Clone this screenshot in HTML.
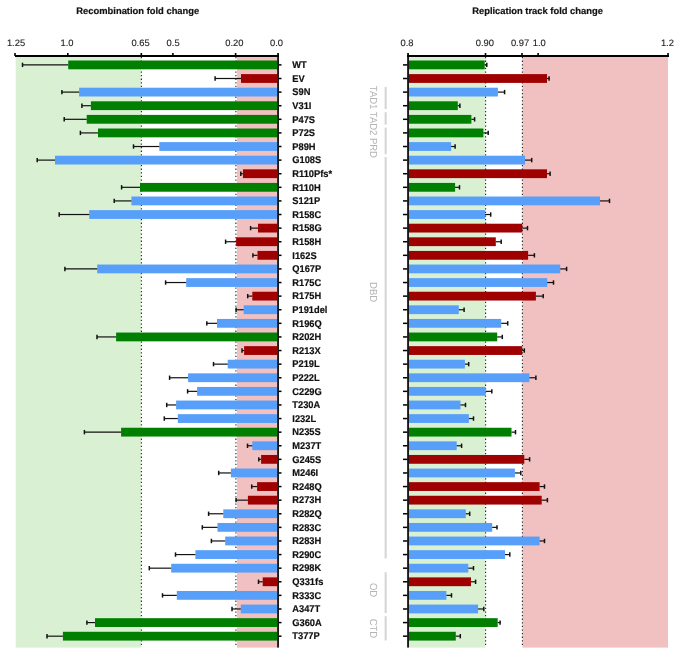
<!DOCTYPE html><html><head><meta charset="utf-8"><style>html,body{margin:0;padding:0;background:#fff;}body{width:685px;height:667px;overflow:hidden;}svg{display:block;text-rendering:geometricPrecision;will-change:transform;font-family:"Liberation Sans",sans-serif;}</style></head><body>
<svg width="685" height="667" viewBox="0 0 685 667">
<rect x="15.7" y="57.0" width="125.3" height="590.6" fill="#d9f1d2"/>
<rect x="237" y="57.0" width="40.2" height="590.6" fill="#f1c0c1"/>
<line x1="141.4" y1="57.0" x2="141.4" y2="647.6" stroke="#222" stroke-width="1.1" stroke-dasharray="1.3 2.3"/>
<line x1="235.9" y1="57.0" x2="235.9" y2="647.6" stroke="#222" stroke-width="1.1" stroke-dasharray="1.3 2.3"/>
<rect x="68.2" y="60.50" width="209.00" height="8.8" fill="#007f00"/>
<line x1="22.5" y1="64.90" x2="68.2" y2="64.90" stroke="#111" stroke-width="1.2"/>
<line x1="22.5" y1="62.70" x2="22.5" y2="67.10" stroke="#111" stroke-width="1.5"/>
<rect x="241.0" y="74.10" width="36.20" height="8.8" fill="#9f0000"/>
<line x1="215.1" y1="78.50" x2="241.0" y2="78.50" stroke="#111" stroke-width="1.2"/>
<line x1="215.1" y1="76.30" x2="215.1" y2="80.70" stroke="#111" stroke-width="1.5"/>
<rect x="79.1" y="87.70" width="198.10" height="8.8" fill="#589ffa"/>
<line x1="61.9" y1="92.10" x2="79.1" y2="92.10" stroke="#111" stroke-width="1.2"/>
<line x1="61.9" y1="89.90" x2="61.9" y2="94.30" stroke="#111" stroke-width="1.5"/>
<rect x="90.9" y="101.31" width="186.30" height="8.8" fill="#007f00"/>
<line x1="81.9" y1="105.71" x2="90.9" y2="105.71" stroke="#111" stroke-width="1.2"/>
<line x1="81.9" y1="103.51" x2="81.9" y2="107.91" stroke="#111" stroke-width="1.5"/>
<rect x="86.7" y="114.91" width="190.50" height="8.8" fill="#007f00"/>
<line x1="64.2" y1="119.31" x2="86.7" y2="119.31" stroke="#111" stroke-width="1.2"/>
<line x1="64.2" y1="117.11" x2="64.2" y2="121.51" stroke="#111" stroke-width="1.5"/>
<rect x="98.0" y="128.51" width="179.20" height="8.8" fill="#007f00"/>
<line x1="80.4" y1="132.91" x2="98.0" y2="132.91" stroke="#111" stroke-width="1.2"/>
<line x1="80.4" y1="130.71" x2="80.4" y2="135.11" stroke="#111" stroke-width="1.5"/>
<rect x="159.3" y="142.11" width="117.90" height="8.8" fill="#589ffa"/>
<line x1="133.5" y1="146.51" x2="159.3" y2="146.51" stroke="#111" stroke-width="1.2"/>
<line x1="133.5" y1="144.31" x2="133.5" y2="148.71" stroke="#111" stroke-width="1.5"/>
<rect x="55.0" y="155.71" width="222.20" height="8.8" fill="#589ffa"/>
<line x1="37.2" y1="160.11" x2="55.0" y2="160.11" stroke="#111" stroke-width="1.2"/>
<line x1="37.2" y1="157.91" x2="37.2" y2="162.31" stroke="#111" stroke-width="1.5"/>
<rect x="242.9" y="169.32" width="34.30" height="8.8" fill="#9f0000"/>
<line x1="240.8" y1="173.72" x2="242.9" y2="173.72" stroke="#111" stroke-width="1.2"/>
<line x1="240.8" y1="171.52" x2="240.8" y2="175.92" stroke="#111" stroke-width="1.5"/>
<rect x="140.0" y="182.92" width="137.20" height="8.8" fill="#007f00"/>
<line x1="121.6" y1="187.32" x2="140.0" y2="187.32" stroke="#111" stroke-width="1.2"/>
<line x1="121.6" y1="185.12" x2="121.6" y2="189.52" stroke="#111" stroke-width="1.5"/>
<rect x="131.4" y="196.52" width="145.80" height="8.8" fill="#589ffa"/>
<line x1="114.2" y1="200.92" x2="131.4" y2="200.92" stroke="#111" stroke-width="1.2"/>
<line x1="114.2" y1="198.72" x2="114.2" y2="203.12" stroke="#111" stroke-width="1.5"/>
<rect x="89.2" y="210.12" width="188.00" height="8.8" fill="#589ffa"/>
<line x1="59.2" y1="214.52" x2="89.2" y2="214.52" stroke="#111" stroke-width="1.2"/>
<line x1="59.2" y1="212.32" x2="59.2" y2="216.72" stroke="#111" stroke-width="1.5"/>
<rect x="258.0" y="223.72" width="19.20" height="8.8" fill="#9f0000"/>
<line x1="250.6" y1="228.12" x2="258.0" y2="228.12" stroke="#111" stroke-width="1.2"/>
<line x1="250.6" y1="225.92" x2="250.6" y2="230.32" stroke="#111" stroke-width="1.5"/>
<rect x="236.1" y="237.33" width="41.10" height="8.8" fill="#9f0000"/>
<line x1="225.6" y1="241.73" x2="236.1" y2="241.73" stroke="#111" stroke-width="1.2"/>
<line x1="225.6" y1="239.53" x2="225.6" y2="243.93" stroke="#111" stroke-width="1.5"/>
<rect x="257.5" y="250.93" width="19.70" height="8.8" fill="#9f0000"/>
<line x1="252.9" y1="255.33" x2="257.5" y2="255.33" stroke="#111" stroke-width="1.2"/>
<line x1="252.9" y1="253.13" x2="252.9" y2="257.53" stroke="#111" stroke-width="1.5"/>
<rect x="97.2" y="264.53" width="180.00" height="8.8" fill="#589ffa"/>
<line x1="64.9" y1="268.93" x2="97.2" y2="268.93" stroke="#111" stroke-width="1.2"/>
<line x1="64.9" y1="266.73" x2="64.9" y2="271.13" stroke="#111" stroke-width="1.5"/>
<rect x="186.2" y="278.13" width="91.00" height="8.8" fill="#589ffa"/>
<line x1="165.6" y1="282.53" x2="186.2" y2="282.53" stroke="#111" stroke-width="1.2"/>
<line x1="165.6" y1="280.33" x2="165.6" y2="284.73" stroke="#111" stroke-width="1.5"/>
<rect x="252.3" y="291.73" width="24.90" height="8.8" fill="#9f0000"/>
<line x1="247.7" y1="296.13" x2="252.3" y2="296.13" stroke="#111" stroke-width="1.2"/>
<line x1="247.7" y1="293.93" x2="247.7" y2="298.33" stroke="#111" stroke-width="1.5"/>
<rect x="243.7" y="305.34" width="33.50" height="8.8" fill="#589ffa"/>
<line x1="236.1" y1="309.74" x2="243.7" y2="309.74" stroke="#111" stroke-width="1.2"/>
<line x1="236.1" y1="307.54" x2="236.1" y2="311.94" stroke="#111" stroke-width="1.5"/>
<rect x="217.0" y="318.94" width="60.20" height="8.8" fill="#589ffa"/>
<line x1="206.8" y1="323.34" x2="217.0" y2="323.34" stroke="#111" stroke-width="1.2"/>
<line x1="206.8" y1="321.14" x2="206.8" y2="325.54" stroke="#111" stroke-width="1.5"/>
<rect x="116.1" y="332.54" width="161.10" height="8.8" fill="#007f00"/>
<line x1="97.0" y1="336.94" x2="116.1" y2="336.94" stroke="#111" stroke-width="1.2"/>
<line x1="97.0" y1="334.74" x2="97.0" y2="339.14" stroke="#111" stroke-width="1.5"/>
<rect x="244.1" y="346.14" width="33.10" height="8.8" fill="#9f0000"/>
<line x1="242.0" y1="350.54" x2="244.1" y2="350.54" stroke="#111" stroke-width="1.2"/>
<line x1="242.0" y1="348.34" x2="242.0" y2="352.74" stroke="#111" stroke-width="1.5"/>
<rect x="227.7" y="359.74" width="49.50" height="8.8" fill="#589ffa"/>
<line x1="213.5" y1="364.14" x2="227.7" y2="364.14" stroke="#111" stroke-width="1.2"/>
<line x1="213.5" y1="361.94" x2="213.5" y2="366.34" stroke="#111" stroke-width="1.5"/>
<rect x="188.1" y="373.35" width="89.10" height="8.8" fill="#589ffa"/>
<line x1="169.6" y1="377.75" x2="188.1" y2="377.75" stroke="#111" stroke-width="1.2"/>
<line x1="169.6" y1="375.55" x2="169.6" y2="379.95" stroke="#111" stroke-width="1.5"/>
<rect x="197.1" y="386.95" width="80.10" height="8.8" fill="#589ffa"/>
<line x1="187.6" y1="391.35" x2="197.1" y2="391.35" stroke="#111" stroke-width="1.2"/>
<line x1="187.6" y1="389.15" x2="187.6" y2="393.55" stroke="#111" stroke-width="1.5"/>
<rect x="176.1" y="400.55" width="101.10" height="8.8" fill="#589ffa"/>
<line x1="166.7" y1="404.95" x2="176.1" y2="404.95" stroke="#111" stroke-width="1.2"/>
<line x1="166.7" y1="402.75" x2="166.7" y2="407.15" stroke="#111" stroke-width="1.5"/>
<rect x="177.8" y="414.15" width="99.40" height="8.8" fill="#589ffa"/>
<line x1="164.3" y1="418.55" x2="177.8" y2="418.55" stroke="#111" stroke-width="1.2"/>
<line x1="164.3" y1="416.35" x2="164.3" y2="420.75" stroke="#111" stroke-width="1.5"/>
<rect x="121.1" y="427.75" width="156.10" height="8.8" fill="#007f00"/>
<line x1="84.4" y1="432.15" x2="121.1" y2="432.15" stroke="#111" stroke-width="1.2"/>
<line x1="84.4" y1="429.95" x2="84.4" y2="434.35" stroke="#111" stroke-width="1.5"/>
<rect x="252.3" y="441.36" width="24.90" height="8.8" fill="#589ffa"/>
<line x1="247.5" y1="445.76" x2="252.3" y2="445.76" stroke="#111" stroke-width="1.2"/>
<line x1="247.5" y1="443.56" x2="247.5" y2="447.96" stroke="#111" stroke-width="1.5"/>
<rect x="261.1" y="454.96" width="16.10" height="8.8" fill="#9f0000"/>
<line x1="258.8" y1="459.36" x2="261.1" y2="459.36" stroke="#111" stroke-width="1.2"/>
<line x1="258.8" y1="457.16" x2="258.8" y2="461.56" stroke="#111" stroke-width="1.5"/>
<rect x="230.9" y="468.56" width="46.30" height="8.8" fill="#589ffa"/>
<line x1="218.7" y1="472.96" x2="230.9" y2="472.96" stroke="#111" stroke-width="1.2"/>
<line x1="218.7" y1="470.76" x2="218.7" y2="475.16" stroke="#111" stroke-width="1.5"/>
<rect x="257.1" y="482.16" width="20.10" height="8.8" fill="#9f0000"/>
<line x1="251.7" y1="486.56" x2="257.1" y2="486.56" stroke="#111" stroke-width="1.2"/>
<line x1="251.7" y1="484.36" x2="251.7" y2="488.76" stroke="#111" stroke-width="1.5"/>
<rect x="247.9" y="495.76" width="29.30" height="8.8" fill="#9f0000"/>
<line x1="236.1" y1="500.16" x2="247.9" y2="500.16" stroke="#111" stroke-width="1.2"/>
<line x1="236.1" y1="497.96" x2="236.1" y2="502.36" stroke="#111" stroke-width="1.5"/>
<rect x="223.3" y="509.37" width="53.90" height="8.8" fill="#589ffa"/>
<line x1="208.6" y1="513.77" x2="223.3" y2="513.77" stroke="#111" stroke-width="1.2"/>
<line x1="208.6" y1="511.57" x2="208.6" y2="515.97" stroke="#111" stroke-width="1.5"/>
<rect x="217.5" y="522.97" width="59.70" height="8.8" fill="#589ffa"/>
<line x1="202.3" y1="527.37" x2="217.5" y2="527.37" stroke="#111" stroke-width="1.2"/>
<line x1="202.3" y1="525.17" x2="202.3" y2="529.57" stroke="#111" stroke-width="1.5"/>
<rect x="225.2" y="536.57" width="52.00" height="8.8" fill="#589ffa"/>
<line x1="211.4" y1="540.97" x2="225.2" y2="540.97" stroke="#111" stroke-width="1.2"/>
<line x1="211.4" y1="538.77" x2="211.4" y2="543.17" stroke="#111" stroke-width="1.5"/>
<rect x="195.4" y="550.17" width="81.80" height="8.8" fill="#589ffa"/>
<line x1="175.5" y1="554.57" x2="195.4" y2="554.57" stroke="#111" stroke-width="1.2"/>
<line x1="175.5" y1="552.37" x2="175.5" y2="556.77" stroke="#111" stroke-width="1.5"/>
<rect x="171.2" y="563.77" width="106.00" height="8.8" fill="#589ffa"/>
<line x1="149.3" y1="568.17" x2="171.2" y2="568.17" stroke="#111" stroke-width="1.2"/>
<line x1="149.3" y1="565.97" x2="149.3" y2="570.37" stroke="#111" stroke-width="1.5"/>
<rect x="262.7" y="577.38" width="14.50" height="8.8" fill="#9f0000"/>
<line x1="258.5" y1="581.78" x2="262.7" y2="581.78" stroke="#111" stroke-width="1.2"/>
<line x1="258.5" y1="579.58" x2="258.5" y2="583.98" stroke="#111" stroke-width="1.5"/>
<rect x="176.8" y="590.98" width="100.40" height="8.8" fill="#589ffa"/>
<line x1="162.5" y1="595.38" x2="176.8" y2="595.38" stroke="#111" stroke-width="1.2"/>
<line x1="162.5" y1="593.18" x2="162.5" y2="597.58" stroke="#111" stroke-width="1.5"/>
<rect x="240.8" y="604.58" width="36.40" height="8.8" fill="#589ffa"/>
<line x1="232.0" y1="608.98" x2="240.8" y2="608.98" stroke="#111" stroke-width="1.2"/>
<line x1="232.0" y1="606.78" x2="232.0" y2="611.18" stroke="#111" stroke-width="1.5"/>
<rect x="95.0" y="618.18" width="182.20" height="8.8" fill="#007f00"/>
<line x1="86.9" y1="622.58" x2="95.0" y2="622.58" stroke="#111" stroke-width="1.2"/>
<line x1="86.9" y1="620.38" x2="86.9" y2="624.78" stroke="#111" stroke-width="1.5"/>
<rect x="62.9" y="631.78" width="214.30" height="8.8" fill="#007f00"/>
<line x1="47.0" y1="636.18" x2="62.9" y2="636.18" stroke="#111" stroke-width="1.2"/>
<line x1="47.0" y1="633.98" x2="47.0" y2="638.38" stroke="#111" stroke-width="1.5"/>
<rect x="15" y="55" width="264" height="2" fill="#000"/>
<rect x="277.2" y="53" width="1.7" height="594.6" fill="#000"/>
<rect x="14.2" y="53" width="1.6" height="3" fill="#000"/>
<rect x="67.0" y="53" width="1.6" height="3" fill="#000"/>
<rect x="140.5" y="53" width="1.6" height="3" fill="#000"/>
<rect x="172.1" y="53" width="1.6" height="3" fill="#000"/>
<rect x="234.79999999999998" y="53" width="1.6" height="3" fill="#000"/>
<rect x="278.9" y="64.15" width="2.6" height="1.5" fill="#000"/>
<rect x="278.9" y="77.75" width="2.6" height="1.5" fill="#000"/>
<rect x="278.9" y="91.35" width="2.6" height="1.5" fill="#000"/>
<rect x="278.9" y="104.96" width="2.6" height="1.5" fill="#000"/>
<rect x="278.9" y="118.56" width="2.6" height="1.5" fill="#000"/>
<rect x="278.9" y="132.16" width="2.6" height="1.5" fill="#000"/>
<rect x="278.9" y="145.76" width="2.6" height="1.5" fill="#000"/>
<rect x="278.9" y="159.36" width="2.6" height="1.5" fill="#000"/>
<rect x="278.9" y="172.97" width="2.6" height="1.5" fill="#000"/>
<rect x="278.9" y="186.57" width="2.6" height="1.5" fill="#000"/>
<rect x="278.9" y="200.17" width="2.6" height="1.5" fill="#000"/>
<rect x="278.9" y="213.77" width="2.6" height="1.5" fill="#000"/>
<rect x="278.9" y="227.37" width="2.6" height="1.5" fill="#000"/>
<rect x="278.9" y="240.98" width="2.6" height="1.5" fill="#000"/>
<rect x="278.9" y="254.58" width="2.6" height="1.5" fill="#000"/>
<rect x="278.9" y="268.18" width="2.6" height="1.5" fill="#000"/>
<rect x="278.9" y="281.78" width="2.6" height="1.5" fill="#000"/>
<rect x="278.9" y="295.38" width="2.6" height="1.5" fill="#000"/>
<rect x="278.9" y="308.99" width="2.6" height="1.5" fill="#000"/>
<rect x="278.9" y="322.59" width="2.6" height="1.5" fill="#000"/>
<rect x="278.9" y="336.19" width="2.6" height="1.5" fill="#000"/>
<rect x="278.9" y="349.79" width="2.6" height="1.5" fill="#000"/>
<rect x="278.9" y="363.39" width="2.6" height="1.5" fill="#000"/>
<rect x="278.9" y="377.00" width="2.6" height="1.5" fill="#000"/>
<rect x="278.9" y="390.60" width="2.6" height="1.5" fill="#000"/>
<rect x="278.9" y="404.20" width="2.6" height="1.5" fill="#000"/>
<rect x="278.9" y="417.80" width="2.6" height="1.5" fill="#000"/>
<rect x="278.9" y="431.40" width="2.6" height="1.5" fill="#000"/>
<rect x="278.9" y="445.01" width="2.6" height="1.5" fill="#000"/>
<rect x="278.9" y="458.61" width="2.6" height="1.5" fill="#000"/>
<rect x="278.9" y="472.21" width="2.6" height="1.5" fill="#000"/>
<rect x="278.9" y="485.81" width="2.6" height="1.5" fill="#000"/>
<rect x="278.9" y="499.41" width="2.6" height="1.5" fill="#000"/>
<rect x="278.9" y="513.02" width="2.6" height="1.5" fill="#000"/>
<rect x="278.9" y="526.62" width="2.6" height="1.5" fill="#000"/>
<rect x="278.9" y="540.22" width="2.6" height="1.5" fill="#000"/>
<rect x="278.9" y="553.82" width="2.6" height="1.5" fill="#000"/>
<rect x="278.9" y="567.42" width="2.6" height="1.5" fill="#000"/>
<rect x="278.9" y="581.03" width="2.6" height="1.5" fill="#000"/>
<rect x="278.9" y="594.63" width="2.6" height="1.5" fill="#000"/>
<rect x="278.9" y="608.23" width="2.6" height="1.5" fill="#000"/>
<rect x="278.9" y="621.83" width="2.6" height="1.5" fill="#000"/>
<rect x="278.9" y="635.43" width="2.6" height="1.5" fill="#000"/>
<text transform="translate(16,46.1) scale(1,1)" font-size="9.4" text-anchor="middle" fill="#222" stroke="#222" stroke-width="0.12">1.25</text>
<text transform="translate(67,46.1) scale(1,1)" font-size="9.4" text-anchor="middle" fill="#222" stroke="#222" stroke-width="0.12">1.0</text>
<text transform="translate(140.5,46.1) scale(1,1)" font-size="9.4" text-anchor="middle" fill="#222" stroke="#222" stroke-width="0.12">0.65</text>
<text transform="translate(173.1,46.1) scale(1,1)" font-size="9.4" text-anchor="middle" fill="#222" stroke="#222" stroke-width="0.12">0.5</text>
<text transform="translate(234.4,46.1) scale(1,1)" font-size="9.4" text-anchor="middle" fill="#222" stroke="#222" stroke-width="0.12">0.20</text>
<text transform="translate(276.5,46.1) scale(1,1)" font-size="9.4" text-anchor="middle" fill="#222" stroke="#222" stroke-width="0.12">0.0</text>
<text transform="translate(137.8,13.5) scale(1,1)" font-size="9.4" font-weight="bold" text-anchor="middle" fill="#111" stroke="#111" stroke-width="0.2">Recombination fold change</text>
<text transform="translate(292.3,68.20) scale(0.949,1)" font-size="9.8" letter-spacing="0" font-weight="bold" fill="#111" stroke="#111" stroke-width="0.2">WT</text>
<text transform="translate(292.3,81.80) scale(0.949,1)" font-size="9.8" letter-spacing="0" font-weight="bold" fill="#111" stroke="#111" stroke-width="0.2">EV</text>
<text transform="translate(292.3,95.40) scale(0.949,1)" font-size="9.8" letter-spacing="0" font-weight="bold" fill="#111" stroke="#111" stroke-width="0.2">S9N</text>
<text transform="translate(292.3,109.01) scale(0.949,1)" font-size="9.8" letter-spacing="0" font-weight="bold" fill="#111" stroke="#111" stroke-width="0.2">V31I</text>
<text transform="translate(292.3,122.61) scale(0.949,1)" font-size="9.8" letter-spacing="0" font-weight="bold" fill="#111" stroke="#111" stroke-width="0.2">P47S</text>
<text transform="translate(292.3,136.21) scale(0.949,1)" font-size="9.8" letter-spacing="0" font-weight="bold" fill="#111" stroke="#111" stroke-width="0.2">P72S</text>
<text transform="translate(292.3,149.81) scale(0.949,1)" font-size="9.8" letter-spacing="0" font-weight="bold" fill="#111" stroke="#111" stroke-width="0.2">P89H</text>
<text transform="translate(292.3,163.41) scale(0.949,1)" font-size="9.8" letter-spacing="0" font-weight="bold" fill="#111" stroke="#111" stroke-width="0.2">G108S</text>
<text transform="translate(292.3,177.02) scale(0.949,1)" font-size="9.8" letter-spacing="0" font-weight="bold" fill="#111" stroke="#111" stroke-width="0.2">R110Pfs*</text>
<text transform="translate(292.3,190.62) scale(0.949,1)" font-size="9.8" letter-spacing="0" font-weight="bold" fill="#111" stroke="#111" stroke-width="0.2">R110H</text>
<text transform="translate(292.3,204.22) scale(0.949,1)" font-size="9.8" letter-spacing="0" font-weight="bold" fill="#111" stroke="#111" stroke-width="0.2">S121P</text>
<text transform="translate(292.3,217.82) scale(0.949,1)" font-size="9.8" letter-spacing="0" font-weight="bold" fill="#111" stroke="#111" stroke-width="0.2">R158C</text>
<text transform="translate(292.3,231.42) scale(0.949,1)" font-size="9.8" letter-spacing="0" font-weight="bold" fill="#111" stroke="#111" stroke-width="0.2">R158G</text>
<text transform="translate(292.3,245.03) scale(0.949,1)" font-size="9.8" letter-spacing="0" font-weight="bold" fill="#111" stroke="#111" stroke-width="0.2">R158H</text>
<text transform="translate(292.3,258.63) scale(0.949,1)" font-size="9.8" letter-spacing="0" font-weight="bold" fill="#111" stroke="#111" stroke-width="0.2">I162S</text>
<text transform="translate(292.3,272.23) scale(0.949,1)" font-size="9.8" letter-spacing="0" font-weight="bold" fill="#111" stroke="#111" stroke-width="0.2">Q167P</text>
<text transform="translate(292.3,285.83) scale(0.949,1)" font-size="9.8" letter-spacing="0" font-weight="bold" fill="#111" stroke="#111" stroke-width="0.2">R175C</text>
<text transform="translate(292.3,299.43) scale(0.949,1)" font-size="9.8" letter-spacing="0" font-weight="bold" fill="#111" stroke="#111" stroke-width="0.2">R175H</text>
<text transform="translate(292.3,313.04) scale(0.949,1)" font-size="9.8" letter-spacing="0" font-weight="bold" fill="#111" stroke="#111" stroke-width="0.2">P191del</text>
<text transform="translate(292.3,326.64) scale(0.949,1)" font-size="9.8" letter-spacing="0" font-weight="bold" fill="#111" stroke="#111" stroke-width="0.2">R196Q</text>
<text transform="translate(292.3,340.24) scale(0.949,1)" font-size="9.8" letter-spacing="0" font-weight="bold" fill="#111" stroke="#111" stroke-width="0.2">R202H</text>
<text transform="translate(292.3,353.84) scale(0.949,1)" font-size="9.8" letter-spacing="0" font-weight="bold" fill="#111" stroke="#111" stroke-width="0.2">R213X</text>
<text transform="translate(292.3,367.44) scale(0.949,1)" font-size="9.8" letter-spacing="0" font-weight="bold" fill="#111" stroke="#111" stroke-width="0.2">P219L</text>
<text transform="translate(292.3,381.05) scale(0.949,1)" font-size="9.8" letter-spacing="0" font-weight="bold" fill="#111" stroke="#111" stroke-width="0.2">P222L</text>
<text transform="translate(292.3,394.65) scale(0.949,1)" font-size="9.8" letter-spacing="0" font-weight="bold" fill="#111" stroke="#111" stroke-width="0.2">C229G</text>
<text transform="translate(292.3,408.25) scale(0.949,1)" font-size="9.8" letter-spacing="0" font-weight="bold" fill="#111" stroke="#111" stroke-width="0.2">T230A</text>
<text transform="translate(292.3,421.85) scale(0.949,1)" font-size="9.8" letter-spacing="0" font-weight="bold" fill="#111" stroke="#111" stroke-width="0.2">I232L</text>
<text transform="translate(292.3,435.45) scale(0.949,1)" font-size="9.8" letter-spacing="0" font-weight="bold" fill="#111" stroke="#111" stroke-width="0.2">N235S</text>
<text transform="translate(292.3,449.06) scale(0.949,1)" font-size="9.8" letter-spacing="0" font-weight="bold" fill="#111" stroke="#111" stroke-width="0.2">M237T</text>
<text transform="translate(292.3,462.66) scale(0.949,1)" font-size="9.8" letter-spacing="0" font-weight="bold" fill="#111" stroke="#111" stroke-width="0.2">G245S</text>
<text transform="translate(292.3,476.26) scale(0.949,1)" font-size="9.8" letter-spacing="0" font-weight="bold" fill="#111" stroke="#111" stroke-width="0.2">M246I</text>
<text transform="translate(292.3,489.86) scale(0.949,1)" font-size="9.8" letter-spacing="0" font-weight="bold" fill="#111" stroke="#111" stroke-width="0.2">R248Q</text>
<text transform="translate(292.3,503.46) scale(0.949,1)" font-size="9.8" letter-spacing="0" font-weight="bold" fill="#111" stroke="#111" stroke-width="0.2">R273H</text>
<text transform="translate(292.3,517.07) scale(0.949,1)" font-size="9.8" letter-spacing="0" font-weight="bold" fill="#111" stroke="#111" stroke-width="0.2">R282Q</text>
<text transform="translate(292.3,530.67) scale(0.949,1)" font-size="9.8" letter-spacing="0" font-weight="bold" fill="#111" stroke="#111" stroke-width="0.2">R283C</text>
<text transform="translate(292.3,544.27) scale(0.949,1)" font-size="9.8" letter-spacing="0" font-weight="bold" fill="#111" stroke="#111" stroke-width="0.2">R283H</text>
<text transform="translate(292.3,557.87) scale(0.949,1)" font-size="9.8" letter-spacing="0" font-weight="bold" fill="#111" stroke="#111" stroke-width="0.2">R290C</text>
<text transform="translate(292.3,571.47) scale(0.949,1)" font-size="9.8" letter-spacing="0" font-weight="bold" fill="#111" stroke="#111" stroke-width="0.2">R298K</text>
<text transform="translate(292.3,585.08) scale(0.949,1)" font-size="9.8" letter-spacing="0" font-weight="bold" fill="#111" stroke="#111" stroke-width="0.2">Q331fs</text>
<text transform="translate(292.3,598.68) scale(0.949,1)" font-size="9.8" letter-spacing="0" font-weight="bold" fill="#111" stroke="#111" stroke-width="0.2">R333C</text>
<text transform="translate(292.3,612.28) scale(0.949,1)" font-size="9.8" letter-spacing="0" font-weight="bold" fill="#111" stroke="#111" stroke-width="0.2">A347T</text>
<text transform="translate(292.3,625.88) scale(0.949,1)" font-size="9.8" letter-spacing="0" font-weight="bold" fill="#111" stroke="#111" stroke-width="0.2">G360A</text>
<text transform="translate(292.3,639.48) scale(0.949,1)" font-size="9.8" letter-spacing="0" font-weight="bold" fill="#111" stroke="#111" stroke-width="0.2">T377P</text>
<rect x="409" y="57.0" width="76.5" height="590.6" fill="#d9f1d2"/>
<rect x="522.5" y="57.0" width="145.5" height="590.6" fill="#f1c0c1"/>
<line x1="485.6" y1="57.0" x2="485.6" y2="647.6" stroke="#222" stroke-width="1.1" stroke-dasharray="1.3 2.3"/>
<line x1="522.4" y1="57.0" x2="522.4" y2="647.6" stroke="#222" stroke-width="1.1" stroke-dasharray="1.3 2.3"/>
<rect x="408.9" y="60.50" width="75.80" height="8.8" fill="#007f00"/>
<line x1="484.7" y1="64.90" x2="486.8" y2="64.90" stroke="#111" stroke-width="1.2"/>
<line x1="486.8" y1="62.70" x2="486.8" y2="67.10" stroke="#111" stroke-width="1.5"/>
<rect x="408.9" y="74.10" width="138.10" height="8.8" fill="#9f0000"/>
<line x1="547.0" y1="78.50" x2="549.1" y2="78.50" stroke="#111" stroke-width="1.2"/>
<line x1="549.1" y1="76.30" x2="549.1" y2="80.70" stroke="#111" stroke-width="1.5"/>
<rect x="408.9" y="87.70" width="89.00" height="8.8" fill="#589ffa"/>
<line x1="497.9" y1="92.10" x2="504.6" y2="92.10" stroke="#111" stroke-width="1.2"/>
<line x1="504.6" y1="89.90" x2="504.6" y2="94.30" stroke="#111" stroke-width="1.5"/>
<rect x="408.9" y="101.31" width="48.90" height="8.8" fill="#007f00"/>
<line x1="457.8" y1="105.71" x2="459.9" y2="105.71" stroke="#111" stroke-width="1.2"/>
<line x1="459.9" y1="103.51" x2="459.9" y2="107.91" stroke="#111" stroke-width="1.5"/>
<rect x="408.9" y="114.91" width="62.50" height="8.8" fill="#007f00"/>
<line x1="471.4" y1="119.31" x2="474.6" y2="119.31" stroke="#111" stroke-width="1.2"/>
<line x1="474.6" y1="117.11" x2="474.6" y2="121.51" stroke="#111" stroke-width="1.5"/>
<rect x="408.9" y="128.51" width="74.50" height="8.8" fill="#007f00"/>
<line x1="483.4" y1="132.91" x2="488.2" y2="132.91" stroke="#111" stroke-width="1.2"/>
<line x1="488.2" y1="130.71" x2="488.2" y2="135.11" stroke="#111" stroke-width="1.5"/>
<rect x="408.9" y="142.11" width="42.20" height="8.8" fill="#589ffa"/>
<line x1="451.1" y1="146.51" x2="455.1" y2="146.51" stroke="#111" stroke-width="1.2"/>
<line x1="455.1" y1="144.31" x2="455.1" y2="148.71" stroke="#111" stroke-width="1.5"/>
<rect x="408.9" y="155.71" width="116.10" height="8.8" fill="#589ffa"/>
<line x1="525.0" y1="160.11" x2="531.7" y2="160.11" stroke="#111" stroke-width="1.2"/>
<line x1="531.7" y1="157.91" x2="531.7" y2="162.31" stroke="#111" stroke-width="1.5"/>
<rect x="408.9" y="169.32" width="138.10" height="8.8" fill="#9f0000"/>
<line x1="547.0" y1="173.72" x2="550.1" y2="173.72" stroke="#111" stroke-width="1.2"/>
<line x1="550.1" y1="171.52" x2="550.1" y2="175.92" stroke="#111" stroke-width="1.5"/>
<rect x="408.9" y="182.92" width="46.20" height="8.8" fill="#007f00"/>
<line x1="455.1" y1="187.32" x2="459.5" y2="187.32" stroke="#111" stroke-width="1.2"/>
<line x1="459.5" y1="185.12" x2="459.5" y2="189.52" stroke="#111" stroke-width="1.5"/>
<rect x="408.9" y="196.52" width="191.10" height="8.8" fill="#589ffa"/>
<line x1="600.0" y1="200.92" x2="609.5" y2="200.92" stroke="#111" stroke-width="1.2"/>
<line x1="609.5" y1="198.72" x2="609.5" y2="203.12" stroke="#111" stroke-width="1.5"/>
<rect x="408.9" y="210.12" width="76.20" height="8.8" fill="#589ffa"/>
<line x1="485.1" y1="214.52" x2="490.7" y2="214.52" stroke="#111" stroke-width="1.2"/>
<line x1="490.7" y1="212.32" x2="490.7" y2="216.72" stroke="#111" stroke-width="1.5"/>
<rect x="408.9" y="223.72" width="113.50" height="8.8" fill="#9f0000"/>
<line x1="522.4" y1="228.12" x2="527.5" y2="228.12" stroke="#111" stroke-width="1.2"/>
<line x1="527.5" y1="225.92" x2="527.5" y2="230.32" stroke="#111" stroke-width="1.5"/>
<rect x="408.9" y="237.33" width="86.90" height="8.8" fill="#9f0000"/>
<line x1="495.8" y1="241.73" x2="501.2" y2="241.73" stroke="#111" stroke-width="1.2"/>
<line x1="501.2" y1="239.53" x2="501.2" y2="243.93" stroke="#111" stroke-width="1.5"/>
<rect x="408.9" y="250.93" width="119.20" height="8.8" fill="#9f0000"/>
<line x1="528.1" y1="255.33" x2="534.4" y2="255.33" stroke="#111" stroke-width="1.2"/>
<line x1="534.4" y1="253.13" x2="534.4" y2="257.53" stroke="#111" stroke-width="1.5"/>
<rect x="408.9" y="264.53" width="151.30" height="8.8" fill="#589ffa"/>
<line x1="560.2" y1="268.93" x2="566.6" y2="268.93" stroke="#111" stroke-width="1.2"/>
<line x1="566.6" y1="266.73" x2="566.6" y2="271.13" stroke="#111" stroke-width="1.5"/>
<rect x="408.9" y="278.13" width="138.30" height="8.8" fill="#589ffa"/>
<line x1="547.2" y1="282.53" x2="553.5" y2="282.53" stroke="#111" stroke-width="1.2"/>
<line x1="553.5" y1="280.33" x2="553.5" y2="284.73" stroke="#111" stroke-width="1.5"/>
<rect x="408.9" y="291.73" width="127.00" height="8.8" fill="#9f0000"/>
<line x1="535.9" y1="296.13" x2="543.2" y2="296.13" stroke="#111" stroke-width="1.2"/>
<line x1="543.2" y1="293.93" x2="543.2" y2="298.33" stroke="#111" stroke-width="1.5"/>
<rect x="408.9" y="305.34" width="49.90" height="8.8" fill="#589ffa"/>
<line x1="458.8" y1="309.74" x2="464.1" y2="309.74" stroke="#111" stroke-width="1.2"/>
<line x1="464.1" y1="307.54" x2="464.1" y2="311.94" stroke="#111" stroke-width="1.5"/>
<rect x="408.9" y="318.94" width="92.30" height="8.8" fill="#589ffa"/>
<line x1="501.2" y1="323.34" x2="507.7" y2="323.34" stroke="#111" stroke-width="1.2"/>
<line x1="507.7" y1="321.14" x2="507.7" y2="325.54" stroke="#111" stroke-width="1.5"/>
<rect x="408.9" y="332.54" width="88.30" height="8.8" fill="#007f00"/>
<line x1="497.2" y1="336.94" x2="502.3" y2="336.94" stroke="#111" stroke-width="1.2"/>
<line x1="502.3" y1="334.74" x2="502.3" y2="339.14" stroke="#111" stroke-width="1.5"/>
<rect x="408.9" y="346.14" width="113.30" height="8.8" fill="#9f0000"/>
<line x1="522.2" y1="350.54" x2="524.3" y2="350.54" stroke="#111" stroke-width="1.2"/>
<line x1="524.3" y1="348.34" x2="524.3" y2="352.74" stroke="#111" stroke-width="1.5"/>
<rect x="408.9" y="359.74" width="56.00" height="8.8" fill="#589ffa"/>
<line x1="464.9" y1="364.14" x2="468.7" y2="364.14" stroke="#111" stroke-width="1.2"/>
<line x1="468.7" y1="361.94" x2="468.7" y2="366.34" stroke="#111" stroke-width="1.5"/>
<rect x="408.9" y="373.35" width="120.50" height="8.8" fill="#589ffa"/>
<line x1="529.4" y1="377.75" x2="535.9" y2="377.75" stroke="#111" stroke-width="1.2"/>
<line x1="535.9" y1="375.55" x2="535.9" y2="379.95" stroke="#111" stroke-width="1.5"/>
<rect x="408.9" y="386.95" width="76.80" height="8.8" fill="#589ffa"/>
<line x1="485.7" y1="391.35" x2="491.8" y2="391.35" stroke="#111" stroke-width="1.2"/>
<line x1="491.8" y1="389.15" x2="491.8" y2="393.55" stroke="#111" stroke-width="1.5"/>
<rect x="408.9" y="400.55" width="51.60" height="8.8" fill="#589ffa"/>
<line x1="460.5" y1="404.95" x2="465.5" y2="404.95" stroke="#111" stroke-width="1.2"/>
<line x1="465.5" y1="402.75" x2="465.5" y2="407.15" stroke="#111" stroke-width="1.5"/>
<rect x="408.9" y="414.15" width="60.00" height="8.8" fill="#589ffa"/>
<line x1="468.9" y1="418.55" x2="473.5" y2="418.55" stroke="#111" stroke-width="1.2"/>
<line x1="473.5" y1="416.35" x2="473.5" y2="420.75" stroke="#111" stroke-width="1.5"/>
<rect x="408.9" y="427.75" width="102.60" height="8.8" fill="#007f00"/>
<line x1="511.5" y1="432.15" x2="515.5" y2="432.15" stroke="#111" stroke-width="1.2"/>
<line x1="515.5" y1="429.95" x2="515.5" y2="434.35" stroke="#111" stroke-width="1.5"/>
<rect x="408.9" y="441.36" width="47.80" height="8.8" fill="#589ffa"/>
<line x1="456.7" y1="445.76" x2="461.6" y2="445.76" stroke="#111" stroke-width="1.2"/>
<line x1="461.6" y1="443.56" x2="461.6" y2="447.96" stroke="#111" stroke-width="1.5"/>
<rect x="408.9" y="454.96" width="115.40" height="8.8" fill="#9f0000"/>
<line x1="524.3" y1="459.36" x2="529.6" y2="459.36" stroke="#111" stroke-width="1.2"/>
<line x1="529.6" y1="457.16" x2="529.6" y2="461.56" stroke="#111" stroke-width="1.5"/>
<rect x="408.9" y="468.56" width="106.00" height="8.8" fill="#589ffa"/>
<line x1="514.9" y1="472.96" x2="520.8" y2="472.96" stroke="#111" stroke-width="1.2"/>
<line x1="520.8" y1="470.76" x2="520.8" y2="475.16" stroke="#111" stroke-width="1.5"/>
<rect x="408.9" y="482.16" width="130.70" height="8.8" fill="#9f0000"/>
<line x1="539.6" y1="486.56" x2="544.5" y2="486.56" stroke="#111" stroke-width="1.2"/>
<line x1="544.5" y1="484.36" x2="544.5" y2="488.76" stroke="#111" stroke-width="1.5"/>
<rect x="408.9" y="495.76" width="132.80" height="8.8" fill="#9f0000"/>
<line x1="541.7" y1="500.16" x2="547.4" y2="500.16" stroke="#111" stroke-width="1.2"/>
<line x1="547.4" y1="497.96" x2="547.4" y2="502.36" stroke="#111" stroke-width="1.5"/>
<rect x="408.9" y="509.37" width="56.90" height="8.8" fill="#589ffa"/>
<line x1="465.8" y1="513.77" x2="469.7" y2="513.77" stroke="#111" stroke-width="1.2"/>
<line x1="469.7" y1="511.57" x2="469.7" y2="515.97" stroke="#111" stroke-width="1.5"/>
<rect x="408.9" y="522.97" width="83.30" height="8.8" fill="#589ffa"/>
<line x1="492.2" y1="527.37" x2="497.0" y2="527.37" stroke="#111" stroke-width="1.2"/>
<line x1="497.0" y1="525.17" x2="497.0" y2="529.57" stroke="#111" stroke-width="1.5"/>
<rect x="408.9" y="536.57" width="130.70" height="8.8" fill="#589ffa"/>
<line x1="539.6" y1="540.97" x2="544.5" y2="540.97" stroke="#111" stroke-width="1.2"/>
<line x1="544.5" y1="538.77" x2="544.5" y2="543.17" stroke="#111" stroke-width="1.5"/>
<rect x="408.9" y="550.17" width="96.10" height="8.8" fill="#589ffa"/>
<line x1="505.0" y1="554.57" x2="509.8" y2="554.57" stroke="#111" stroke-width="1.2"/>
<line x1="509.8" y1="552.37" x2="509.8" y2="556.77" stroke="#111" stroke-width="1.5"/>
<rect x="408.9" y="563.77" width="59.40" height="8.8" fill="#589ffa"/>
<line x1="468.3" y1="568.17" x2="473.5" y2="568.17" stroke="#111" stroke-width="1.2"/>
<line x1="473.5" y1="565.97" x2="473.5" y2="570.37" stroke="#111" stroke-width="1.5"/>
<rect x="408.9" y="577.38" width="62.10" height="8.8" fill="#9f0000"/>
<line x1="471.0" y1="581.78" x2="475.6" y2="581.78" stroke="#111" stroke-width="1.2"/>
<line x1="475.6" y1="579.58" x2="475.6" y2="583.98" stroke="#111" stroke-width="1.5"/>
<rect x="408.9" y="590.98" width="37.50" height="8.8" fill="#589ffa"/>
<line x1="446.4" y1="595.38" x2="451.5" y2="595.38" stroke="#111" stroke-width="1.2"/>
<line x1="451.5" y1="593.18" x2="451.5" y2="597.58" stroke="#111" stroke-width="1.5"/>
<rect x="408.9" y="604.58" width="69.20" height="8.8" fill="#589ffa"/>
<line x1="478.1" y1="608.98" x2="483.8" y2="608.98" stroke="#111" stroke-width="1.2"/>
<line x1="483.8" y1="606.78" x2="483.8" y2="611.18" stroke="#111" stroke-width="1.5"/>
<rect x="408.9" y="618.18" width="88.80" height="8.8" fill="#007f00"/>
<line x1="497.7" y1="622.58" x2="500.1" y2="622.58" stroke="#111" stroke-width="1.2"/>
<line x1="500.1" y1="620.38" x2="500.1" y2="624.78" stroke="#111" stroke-width="1.5"/>
<rect x="408.9" y="631.78" width="46.90" height="8.8" fill="#007f00"/>
<line x1="455.8" y1="636.18" x2="460.3" y2="636.18" stroke="#111" stroke-width="1.2"/>
<line x1="460.3" y1="633.98" x2="460.3" y2="638.38" stroke="#111" stroke-width="1.5"/>
<rect x="407" y="55" width="262" height="2" fill="#000"/>
<rect x="407.2" y="53" width="1.7" height="594.6" fill="#000"/>
<rect x="484.7" y="53" width="1.6" height="3" fill="#000"/>
<rect x="521.2" y="53" width="1.6" height="3" fill="#000"/>
<rect x="537.3000000000001" y="53" width="1.6" height="3" fill="#000"/>
<rect x="667.2" y="53" width="1.6" height="3" fill="#000"/>
<rect x="403" y="64.15" width="4.5" height="1.5" fill="#000"/>
<rect x="403" y="77.75" width="4.5" height="1.5" fill="#000"/>
<rect x="403" y="91.35" width="4.5" height="1.5" fill="#000"/>
<rect x="403" y="104.96" width="4.5" height="1.5" fill="#000"/>
<rect x="403" y="118.56" width="4.5" height="1.5" fill="#000"/>
<rect x="403" y="132.16" width="4.5" height="1.5" fill="#000"/>
<rect x="403" y="145.76" width="4.5" height="1.5" fill="#000"/>
<rect x="403" y="159.36" width="4.5" height="1.5" fill="#000"/>
<rect x="403" y="172.97" width="4.5" height="1.5" fill="#000"/>
<rect x="403" y="186.57" width="4.5" height="1.5" fill="#000"/>
<rect x="403" y="200.17" width="4.5" height="1.5" fill="#000"/>
<rect x="403" y="213.77" width="4.5" height="1.5" fill="#000"/>
<rect x="403" y="227.37" width="4.5" height="1.5" fill="#000"/>
<rect x="403" y="240.98" width="4.5" height="1.5" fill="#000"/>
<rect x="403" y="254.58" width="4.5" height="1.5" fill="#000"/>
<rect x="403" y="268.18" width="4.5" height="1.5" fill="#000"/>
<rect x="403" y="281.78" width="4.5" height="1.5" fill="#000"/>
<rect x="403" y="295.38" width="4.5" height="1.5" fill="#000"/>
<rect x="403" y="308.99" width="4.5" height="1.5" fill="#000"/>
<rect x="403" y="322.59" width="4.5" height="1.5" fill="#000"/>
<rect x="403" y="336.19" width="4.5" height="1.5" fill="#000"/>
<rect x="403" y="349.79" width="4.5" height="1.5" fill="#000"/>
<rect x="403" y="363.39" width="4.5" height="1.5" fill="#000"/>
<rect x="403" y="377.00" width="4.5" height="1.5" fill="#000"/>
<rect x="403" y="390.60" width="4.5" height="1.5" fill="#000"/>
<rect x="403" y="404.20" width="4.5" height="1.5" fill="#000"/>
<rect x="403" y="417.80" width="4.5" height="1.5" fill="#000"/>
<rect x="403" y="431.40" width="4.5" height="1.5" fill="#000"/>
<rect x="403" y="445.01" width="4.5" height="1.5" fill="#000"/>
<rect x="403" y="458.61" width="4.5" height="1.5" fill="#000"/>
<rect x="403" y="472.21" width="4.5" height="1.5" fill="#000"/>
<rect x="403" y="485.81" width="4.5" height="1.5" fill="#000"/>
<rect x="403" y="499.41" width="4.5" height="1.5" fill="#000"/>
<rect x="403" y="513.02" width="4.5" height="1.5" fill="#000"/>
<rect x="403" y="526.62" width="4.5" height="1.5" fill="#000"/>
<rect x="403" y="540.22" width="4.5" height="1.5" fill="#000"/>
<rect x="403" y="553.82" width="4.5" height="1.5" fill="#000"/>
<rect x="403" y="567.42" width="4.5" height="1.5" fill="#000"/>
<rect x="403" y="581.03" width="4.5" height="1.5" fill="#000"/>
<rect x="403" y="594.63" width="4.5" height="1.5" fill="#000"/>
<rect x="403" y="608.23" width="4.5" height="1.5" fill="#000"/>
<rect x="403" y="621.83" width="4.5" height="1.5" fill="#000"/>
<rect x="403" y="635.43" width="4.5" height="1.5" fill="#000"/>
<text transform="translate(407,46.1) scale(1,1)" font-size="9.4" text-anchor="middle" fill="#222" stroke="#222" stroke-width="0.12">0.8</text>
<text transform="translate(484.8,46.1) scale(1,1)" font-size="9.4" text-anchor="middle" fill="#222" stroke="#222" stroke-width="0.12">0.90</text>
<text transform="translate(520,46.1) scale(1,1)" font-size="9.4" text-anchor="middle" fill="#222" stroke="#222" stroke-width="0.12">0.97</text>
<text transform="translate(539.2,46.1) scale(1,1)" font-size="9.4" text-anchor="middle" fill="#222" stroke="#222" stroke-width="0.12">1.0</text>
<text transform="translate(667.4,46.1) scale(1,1)" font-size="9.4" text-anchor="middle" fill="#222" stroke="#222" stroke-width="0.12">1.2</text>
<text transform="translate(537.55,13.5) scale(1,1)" font-size="9.4" font-weight="bold" text-anchor="middle" fill="#111" stroke="#111" stroke-width="0.2">Replication track fold change</text>
<rect x="384.6" y="86.8" width="2.1" height="22.2" fill="#d6d6d6"/>
<rect x="384.6" y="112.2" width="2.1" height="12.4" fill="#d6d6d6"/>
<rect x="384.6" y="127.6" width="2.1" height="26.7" fill="#d6d6d6"/>
<rect x="384.6" y="157" width="2.1" height="401.4" fill="#d6d6d6"/>
<rect x="384.6" y="572.2" width="2.1" height="40.8" fill="#d6d6d6"/>
<rect x="384.6" y="616.2" width="2.1" height="24.3" fill="#d6d6d6"/>
<text transform="translate(369.7,121.9) rotate(90) scale(0.92,1)" font-size="10.3" text-anchor="middle" fill="#b4b4b4">TAD1 TAD2 PRD</text>
<text transform="translate(369.7,292.1) rotate(90) scale(0.92,1)" font-size="10.3" text-anchor="middle" fill="#b4b4b4">DBD</text>
<text transform="translate(369.7,590.0) rotate(90) scale(0.92,1)" font-size="10.3" text-anchor="middle" fill="#b4b4b4">OD</text>
<text transform="translate(369.7,628.4) rotate(90) scale(0.92,1)" font-size="10.3" text-anchor="middle" fill="#b4b4b4">CTD</text>
</svg></body></html>
